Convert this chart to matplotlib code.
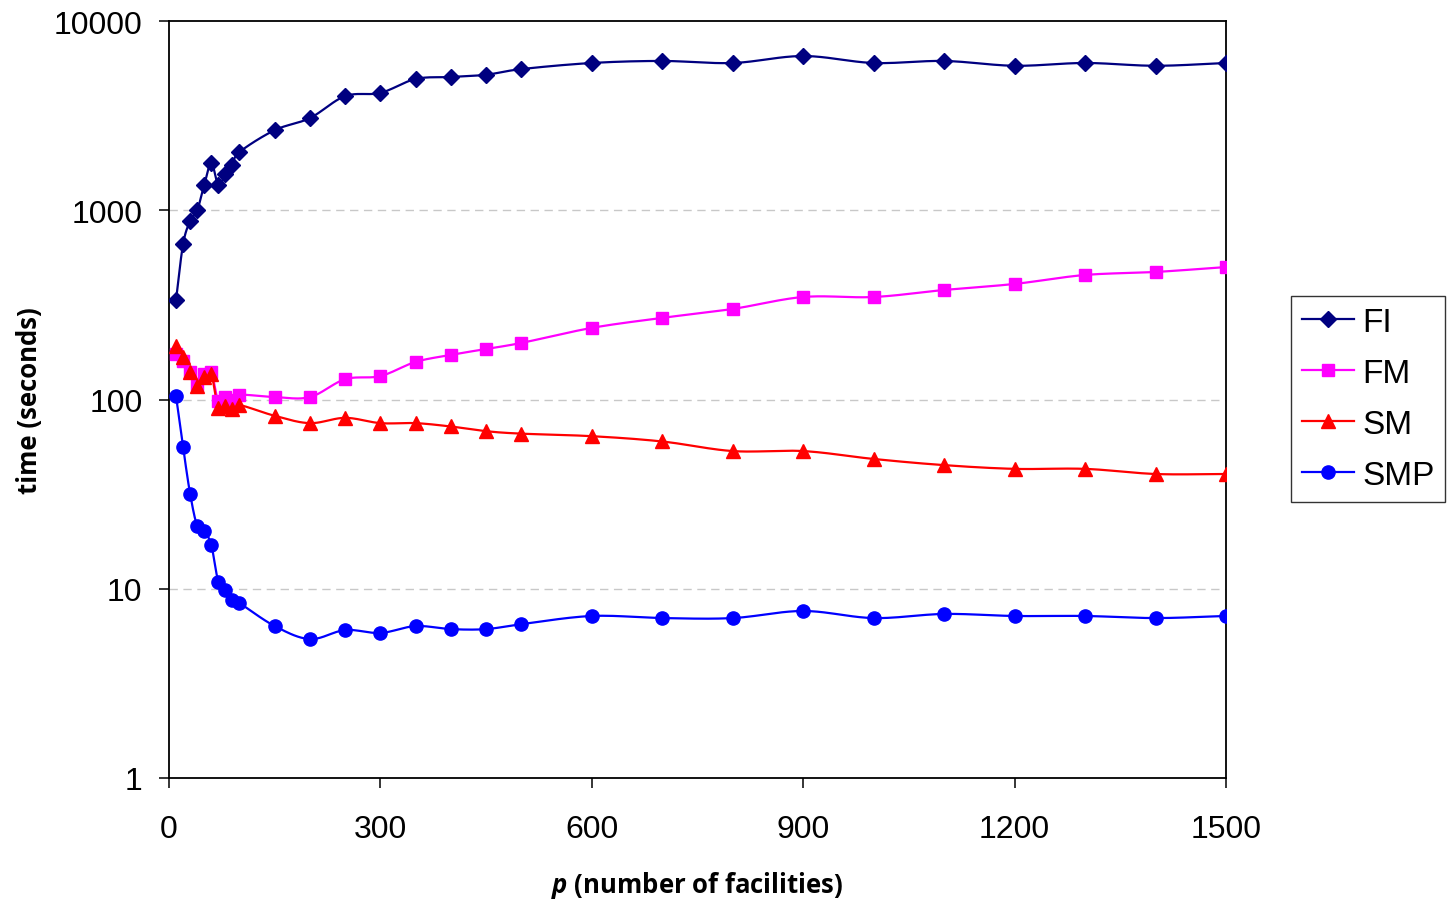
import numpy as np
import matplotlib
matplotlib.use("Agg")
import matplotlib.pyplot as plt

p = [10, 20, 30, 40, 50, 60, 70, 80, 90, 100, 150, 200, 250, 300, 350, 400, 450,
     500, 600, 700, 800, 900, 1000, 1100, 1200, 1300, 1400, 1500]
fi = [336, 663, 877, 1000, 1360, 1780, 1360, 1550, 1740, 2030, 2650, 3070, 4010, 4170,
      4940, 5060, 5200, 5570, 6000, 6150, 6000, 6530, 6000, 6150, 5800, 6000, 5800, 6000]
fm = [174, 160, 140, 119, 136, 140, 98, 103, 100, 106, 103, 103, 128, 133, 158, 172,
      185, 199, 239, 270, 301, 348, 348, 379, 408, 455, 472, 501]
sm = [192, 168, 140, 118, 131, 136, 90, 92, 89, 93.5, 82, 75, 80, 75, 75, 72, 68, 66,
      64, 60, 53.4, 53.4, 48.5, 45, 43, 43, 40.4, 40.4]
smp = [104, 56, 31.7, 21.5, 20.2, 17, 10.9, 9.85, 8.7, 8.4, 6.35, 5.42, 6.05, 5.84,
       6.35, 6.12, 6.12, 6.5, 7.18, 7.0, 7.0, 7.63, 7.0, 7.36, 7.18, 7.18, 7.0, 7.18]

series = [("FI", fi, "#000080", "D", 8.5), ("FM", fm, "#FF00FF", "s", 8.5),
          ("SM", sm, "#FF0000", "^", 9.5), ("SMP", smp, "#0000FF", "o", 9.5)]

plt.rcParams['mathtext.fontset'] = 'custom'
plt.rcParams['mathtext.it'] = 'Open Sans:italic:bold'


def smooth(x, y, n=20):
    x = np.asarray(x, float)
    y = np.log10(np.asarray(y, float))
    P = np.column_stack([x, y])
    P = np.vstack([P[0] * 2 - P[1], P, P[-1] * 2 - P[-2]])
    out = []
    t = np.linspace(0, 1, n, endpoint=False)[:, None]
    for i in range(1, len(P) - 2):
        p0, p1, p2, p3 = P[i - 1], P[i], P[i + 1], P[i + 2]
        seg = 0.5 * ((2 * p1) + (-p0 + p2) * t + (2 * p0 - 5 * p1 + 4 * p2 - p3) * t ** 2
                     + (-p0 + 3 * p1 - 3 * p2 + p3) * t ** 3)
        out.append(seg)
    out.append(P[-2][None, :])
    out = np.vstack(out)
    return out[:, 0], 10 ** out[:, 1]


fig = plt.figure(figsize=(14.5, 9.03), dpi=100)
ax = fig.add_axes([169 / 1450, 1 - 779 / 903, (1226 - 169) / 1450, (779 - 22) / 903])

handles = []
for name, vals, col, mk, ms in series:
    sx, sy = smooth(p, vals)
    ax.plot(sx, sy, color=col, lw=1.6, zorder=2)
    ax.plot(p, vals, linestyle='none', marker=mk, color=col, ms=ms, zorder=3)
    h, = ax.plot([], [], color=col, lw=1.6, marker=mk, ms=ms, label=name)
    handles.append(h)

ax.set_yscale('log')
ax.set_ylim(1, 10000)
ax.set_xlim(0, 1500)
ax.set_xticks([0, 300, 600, 900, 1200, 1500])
ax.set_yticks([1, 10, 100, 1000, 10000])
ax.set_yticklabels(['1', '10', '100', '1000', '10000'])
ax.yaxis.set_minor_locator(matplotlib.ticker.NullLocator())
for yv in [10, 100, 1000]:
    ax.axhline(yv, color='#c8c8c8', lw=1, ls=(0, (6, 4)), zorder=1)
for s in ax.spines.values():
    s.set_linewidth(1.3)
    s.set_color('black')
ax.tick_params(axis='both', labelsize=23, length=7, width=1.1, direction='out',
               labelfontfamily='Liberation Sans')
ax.tick_params(axis='x', pad=19)
ax.tick_params(axis='y', pad=12)

ax.set_xlabel(r'$\mathit{p}$ (number of facilities)', fontsize=18.5, fontweight='bold',
              family='Open Sans', labelpad=18)
ax.set_ylabel('time (seconds)', fontsize=18.5, fontweight='bold', family='Open Sans',
              labelpad=8)

leg = fig.legend(handles=handles, loc='upper left',
                 bbox_to_anchor=(1291 / 1450, 1 - 297 / 903),
                 prop={'family': 'Liberation Sans', 'size': 24}, frameon=True,
                 fancybox=False, edgecolor='black', handlelength=1.55,
                 labelspacing=0.6, borderpad=0.33, handletextpad=0.25,
                 borderaxespad=0)
leg.get_frame().set_linewidth(1)

fig.savefig('out.png', dpi=100)
